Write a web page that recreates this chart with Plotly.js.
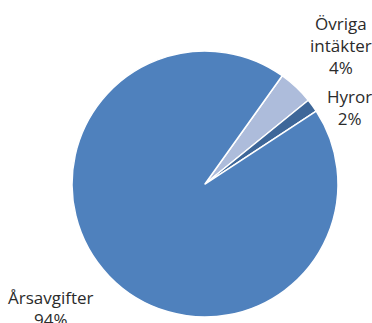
<!DOCTYPE html>
<html>
<head>
<meta charset="utf-8">
<script src="https://cdn.plot.ly/plotly-3.0.1.min.js"></script>
<style>html,body{margin:0;padding:0;background:#fff;}#chart{width:372px;height:323px;}</style>
</head>
<body>
<div id="chart"></div>
<script>
const categories = ["Övriga intäkter", "Hyror", "Årsavgifter"];
const values = [4.3, 1.6, 94.1];
const labelTexts = ["Övriga<br>intäkter<br>4%", "Hyror<br>2%", "Årsavgifter<br>94%"];
const colors = ["#adbcdb", "#3e6799", "#4f81bd"];

const trace = {
  type: "pie",
  labels: categories,
  values: values,
  sort: false,
  direction: "clockwise",
  rotation: 35.5,
  textinfo: "none",
  hoverinfo: "label+percent",
  marker: { colors: colors, line: { color: "#ffffff", width: 1.5 } },
  domain: { x: [0.1935, 0.9086], y: [0.0186, 0.842] },
  showlegend: false
};

const fontSpec = { family: "Open Sans, Noto Sans, sans-serif", size: 17, color: "#2b2b2b" };
const annPos = [
  { x: 341, y: 46 },
  { x: 349, y: 108 },
  { x: 51, y: 308 }
];
const annotations = labelTexts.map((t, i) => ({
  text: t,
  x: annPos[i].x / 372,
  y: 1 - annPos[i].y / 323,
  xref: "paper", yref: "paper",
  xanchor: "center", yanchor: "middle",
  showarrow: false,
  align: "center",
  font: fontSpec
}));

const layout = {
  width: 372, height: 323,
  margin: { l: 0, r: 0, t: 0, b: 0 },
  paper_bgcolor: "#ffffff",
  plot_bgcolor: "#ffffff",
  annotations: annotations,
  showlegend: false
};

Plotly.newPlot("chart", [trace], layout, { displayModeBar: false, staticPlot: true });
</script>
</body>
</html>
